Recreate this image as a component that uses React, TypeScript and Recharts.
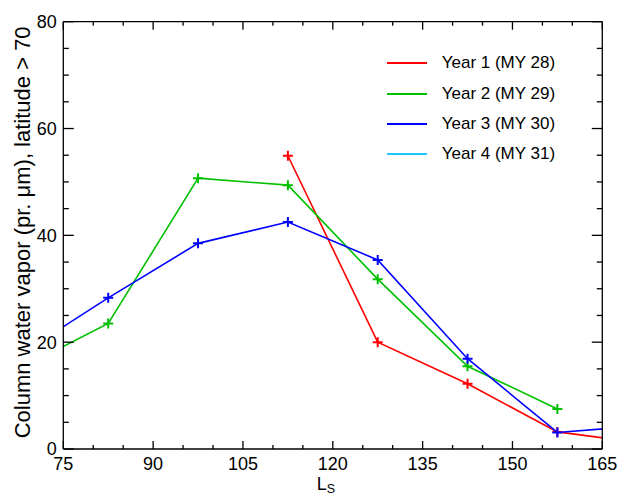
import React from 'react';
import { LineChart, Line, XAxis, YAxis, Legend } from 'recharts';

// Solar longitude (Ls) sample positions; the first and last lie just outside the plotted window
const ls = [67.5, 82.5, 97.5, 112.5, 127.5, 142.5, 157.5, 172.5];
const year1 = [null, null, null, 54.9, 20.0, 12.2, 3.2, 1.0];
const year2 = [14.9, 23.5, 50.7, 49.4, 31.8, 15.5, 7.5, null];
const year3 = [17.5, 28.3, 38.5, 42.5, 35.4, 16.9, 3.1, 4.4];
const year4 = [null, null, null, null, null, null, null, null];

const seriesNames = ['Year 1 (MY 28)', 'Year 2 (MY 29)', 'Year 3 (MY 30)', 'Year 4 (MY 31)'];
const seriesKeys = ['y1', 'y2', 'y3', 'y4'];
const seriesColors = ['#ff0000', '#00c000', '#0000ff', '#1ec8ff'];

const xTicks = [75, 80, 85, 90, 95, 100, 105, 110, 115, 120, 125, 130, 135, 140, 145, 150, 155, 160, 165];
const xMajor = [75, 90, 105, 120, 135, 150, 165];
const yTicks = [0, 5, 10, 15, 20, 25, 30, 35, 40, 45, 50, 55, 60, 65, 70, 75, 80];
const yMajor = [0, 20, 40, 60, 80];

const xDomain: [number, number] = [75, 165];
const yDomain: [number, number] = [0, 80];

const data = ls.map((v, i) => ({ ls: v, y1: year1[i], y2: year2[i], y3: year3[i], y4: year4[i] }));

const FONT = '"Liberation Sans", Arial, Helvetica, sans-serif';
const TW = 1.3; // tick thickness

const BottomTick = (props: any) => {
  const { x, y, payload } = props;
  const v = payload.value;
  const len = xMajor.includes(v) ? 8 : 4;
  return (
    <g>
      <rect x={x - TW / 2} y={y - len} width={TW} height={len} fill="#000" />
      {xMajor.includes(v) && (
        <text x={x} y={y + 21} textAnchor="middle" fontSize={18} fontFamily={FONT} fill="#000">
          {v}
        </text>
      )}
    </g>
  );
};

const TopTick = (props: any) => {
  const { x, y, payload } = props;
  const len = xMajor.includes(payload.value) ? 8 : 4;
  return (
    <g>
      <rect x={x - TW / 2} y={y} width={TW} height={len} fill="#000" />
    </g>
  );
};

const LeftTick = (props: any) => {
  const { x, y, payload } = props;
  const v = payload.value;
  const len = yMajor.includes(v) ? 10.5 : 5.5;
  return (
    <g>
      <rect x={x} y={y - TW / 2} width={len} height={TW} fill="#000" />
      {yMajor.includes(v) && (
        <text x={x - 6.5} y={y + 6.4} textAnchor="end" fontSize={18} fontFamily={FONT} fill="#000">
          {v}
        </text>
      )}
    </g>
  );
};

const RightTick = (props: any) => {
  const { x, y, payload } = props;
  const len = yMajor.includes(payload.value) ? 10.5 : 5.5;
  return (
    <g>
      <rect x={x - len} y={y - TW / 2} width={len} height={TW} fill="#000" />
    </g>
  );
};

const makePlus = (color: string) => (props: any) => {
  const { cx, cy, value, payload, index } = props;
  if (value == null || cx == null || cy == null || Number.isNaN(cy)) return <g key={`e${index}`} />;
  if (payload.ls < xDomain[0] || payload.ls > xDomain[1]) return <g key={`e${index}`} />;
  return (
    <path key={`p${index}`} d={`M${cx - 5},${cy}H${cx + 5}M${cx},${cy - 5}V${cy + 5}`} stroke={color} strokeWidth={2} fill="none" />
  );
};

const XLabel = (props: any) => {
  const vb = props.viewBox || { x: 63.3, y: 449, width: 539, height: 48 };
  const cx = vb.x + vb.width / 2;
  return (
    <text x={cx - 16} y={vb.y + 40.5} fontSize={18} fontFamily={FONT} fill="#000">
      L<tspan fontSize={12.5} dy={3}>S</tspan>
    </text>
  );
};

const YLabel = (props: any) => {
  const vb = props.viewBox || { x: 0, y: 21.7, width: 63.3, height: 427.3 };
  const x = vb.x + 30;
  const y = vb.y + vb.height / 2 - 3;
  return (
    <text x={x} y={y} transform={`rotate(-90, ${x}, ${y})`} textAnchor="middle" fontSize={22} fontFamily={FONT} fill="#000">
      Column water vapor (pr. μm), latitude &gt; 70
    </text>
  );
};

const LegendContent = () => (
  <div style={{ fontFamily: FONT, fontSize: 17, color: '#000' }}>
    {seriesNames.map((n, i) => (
      <div key={n} style={{ display: 'flex', alignItems: 'center', height: 30.3 }}>
        <svg width={40} height={4} style={{ display: 'block' }}>
          <line x1={0} y1={2} x2={40} y2={2} stroke={seriesColors[i]} strokeWidth={2} />
        </svg>
        <span style={{ marginLeft: 14.7, whiteSpace: 'nowrap' }}>{n}</span>
      </div>
    ))}
  </div>
);

export default function App() {
  return (
    <div style={{ position: 'absolute', left: 0, top: 0, background: '#fff', fontFamily: FONT }}>
      <LineChart width={619} height={497} data={data} margin={{ top: 20.7, right: 15.7, bottom: 0, left: 0 }}>
        <XAxis dataKey="ls" type="number" domain={xDomain} ticks={xTicks} interval={0} allowDataOverflow height={48}
          tickSize={0} tickMargin={0} tickLine={false} tick={BottomTick} axisLine={{ stroke: '#000', strokeWidth: 1.3 }} label={XLabel} />
        <XAxis xAxisId="top" orientation="top" dataKey="ls" type="number" domain={xDomain} ticks={xTicks} interval={0} allowDataOverflow height={1}
          tickSize={0} tickMargin={0} tickLine={false} tick={TopTick} axisLine={{ stroke: '#000', strokeWidth: 1.3 }} />
        <YAxis type="number" domain={yDomain} ticks={yTicks} interval={0} allowDataOverflow width={63.3}
          tickSize={0} tickMargin={0} tickLine={false} tick={LeftTick} axisLine={{ stroke: '#000', strokeWidth: 1.3 }} label={YLabel} />
        <YAxis yAxisId="right" orientation="right" type="number" domain={yDomain} ticks={yTicks} interval={0} allowDataOverflow width={1}
          tickSize={0} tickMargin={0} tickLine={false} tick={RightTick} axisLine={{ stroke: '#000', strokeWidth: 1.3 }} />
        <Legend layout="vertical" align="center" verticalAlign="middle" content={LegendContent}
          wrapperStyle={{ left: 387, top: 48.2, width: 220, height: 122 }} />
        {seriesKeys.map((k, i) => (
          <Line key={k} dataKey={k} name={seriesNames[i]} stroke={seriesColors[i]} strokeWidth={1.6}
            dot={makePlus(seriesColors[i])} activeDot={false} isAnimationActive={false} connectNulls={false} />
        ))}
      </LineChart>
    </div>
  );
}
